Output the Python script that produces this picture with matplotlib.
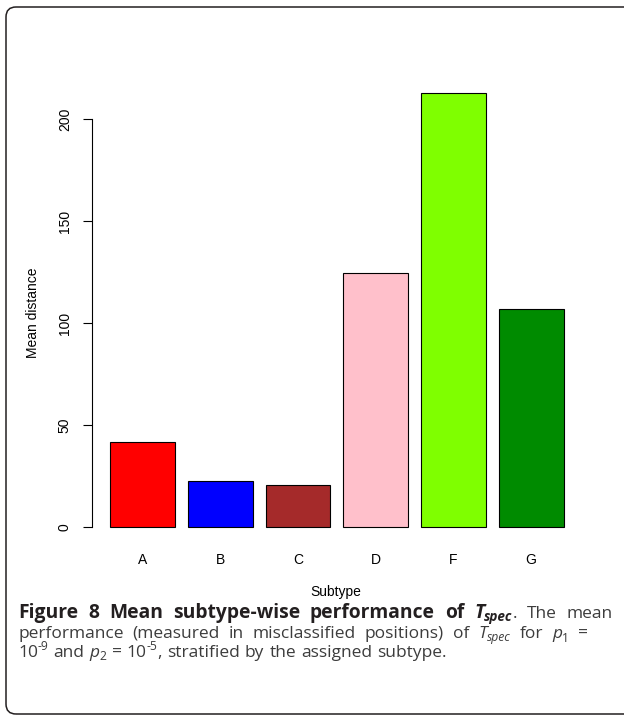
import matplotlib
matplotlib.use("Agg")
import matplotlib.pyplot as plt
from matplotlib.patches import FancyBboxPatch

# data
subtypes = ["A", "B", "C", "D", "F", "G"]
mean_distance = [41.5, 22.6, 20.5, 124.5, 212.8, 107.0]
bar_colors = ["#FF0000", "#0000FF", "#A52A2A", "#FFC0CB", "#7FFF00", "#008B00"]
y_ticks = [0, 50, 100, 150, 200]

W, H = 624, 717
fig = plt.figure(figsize=(W / 100, H / 100), dpi=100)

# rounded frame around the figure panel (pixel coords, runs off the right edge)
frame = FancyBboxPatch((6, H - 714), 700, 707,
                       boxstyle="round,pad=0,rounding_size=10",
                       transform=None, fill=False,
                       edgecolor="#231f20", linewidth=1.1, clip_on=False)
fig.add_artist(frame)

# plot region (R barplot style)
left, right, top, bottom = 92, 581.7, 76, 544.3
ax = fig.add_axes([left / W, (H - bottom) / H, (right - left) / W, (bottom - top) / H])
xpos = [0.7 + 1.2 * i for i in range(len(subtypes))]
ax.bar(xpos, mean_distance, width=1.0, color=bar_colors,
       edgecolor="black", linewidth=0.8)
ax.set_xlim(-0.08, 7.48)
ax.set_ylim(-8.5, 221.3)

for s in ["top", "right", "bottom"]:
    ax.spines[s].set_visible(False)
ax.spines["left"].set_bounds(0, 200)
ax.spines["left"].set_linewidth(0.8)

ax.set_yticks(y_ticks)
ax.set_yticklabels([str(t) for t in y_ticks], rotation=90, va="center",
                   fontsize=10, family="Liberation Sans")
ax.tick_params(axis="y", length=6.5, width=0.8, pad=8)
ax.set_xticks(xpos)
ax.set_xticklabels(subtypes, fontsize=10, family="Liberation Sans")
ax.tick_params(axis="x", length=0, pad=6.5)

fig.text(336 / W, 1 - 592 / H, "Subtype", ha="center", va="center",
         fontsize=10, family="Liberation Sans")
fig.text(33 / W, 1 - 313 / H, "Mean distance", ha="center", va="center",
         rotation=90, fontsize=10, family="Liberation Sans")

# caption, drawn word by word so lines can be justified
cap_font = "Open Sans"
bold_size = 13.9
reg_size = 12.5
bold_color = "#231f20"
text_color = "#3c3c3c"


def run(text, weight="normal", style="normal", shift=0, small=False):
    return dict(text=text, weight=weight, style=style, shift=shift, small=small)


line1 = [
    [run("Figure", "bold")], [run("8", "bold")], [run("Mean", "bold")],
    [run("subtype-wise", "bold")], [run("performance", "bold")], [run("of", "bold")],
    [run("T", "bold", "italic"), run("spec", "bold", "italic", -3.5, True), run(".")],
    [run("The")], [run("mean")],
]
line2 = [
    [run("performance")], [run("(measured")], [run("in")], [run("misclassified")],
    [run("positions)")], [run("of")],
    [run("T", style="italic"), run("spec", style="italic", shift=-3.5, small=True)],
    [run("for")], [run("p", style="italic"), run("1", shift=-3.5, small=True)], [run("=")],
]
line3 = [
    [run("10"), run("-9", shift=6.5, small=True)], [run("and")],
    [run("p", style="italic"), run("2", shift=-3.5, small=True)], [run("=")],
    [run("10"), run("-5", shift=6.5, small=True), run(",")],
    [run("stratified")], [run("by")], [run("the")], [run("assigned")], [run("subtype.")],
]

renderer = fig.canvas.get_renderer()


def make_word(word):
    pieces = []
    for r in word:
        size = bold_size if r["weight"] == "bold" else reg_size
        t = fig.text(0, 0, r["text"], fontsize=size * (0.7 if r["small"] else 1),
                     fontweight=r["weight"], fontstyle=r["style"], family=cap_font,
                     color=bold_color if r["weight"] == "bold" else text_color,
                     ha="left", va="baseline")
        w = t.get_window_extent(renderer).width
        pieces.append((t, w, r["shift"]))
    return pieces


def draw_line(words, baseline, x0=18, x1=613, justify=False):
    made = [make_word(w) for w in words]
    widths = [sum(p[1] for p in m) for m in made]
    if justify:
        gap = (x1 - x0 - sum(widths)) / (len(words) - 1)
    else:
        gap = 5.0
    x = x0
    for m, w in zip(made, widths):
        cx = x
        for t, pw, shift in m:
            t.set_position((cx / W, 1 - (baseline - shift) / H))
            cx += pw
        x += w + gap


draw_line(line1, 618, justify=True)
draw_line(line2, 638, x1=588, justify=True)
draw_line(line3, 657)

fig.savefig("out.png", dpi=100)
